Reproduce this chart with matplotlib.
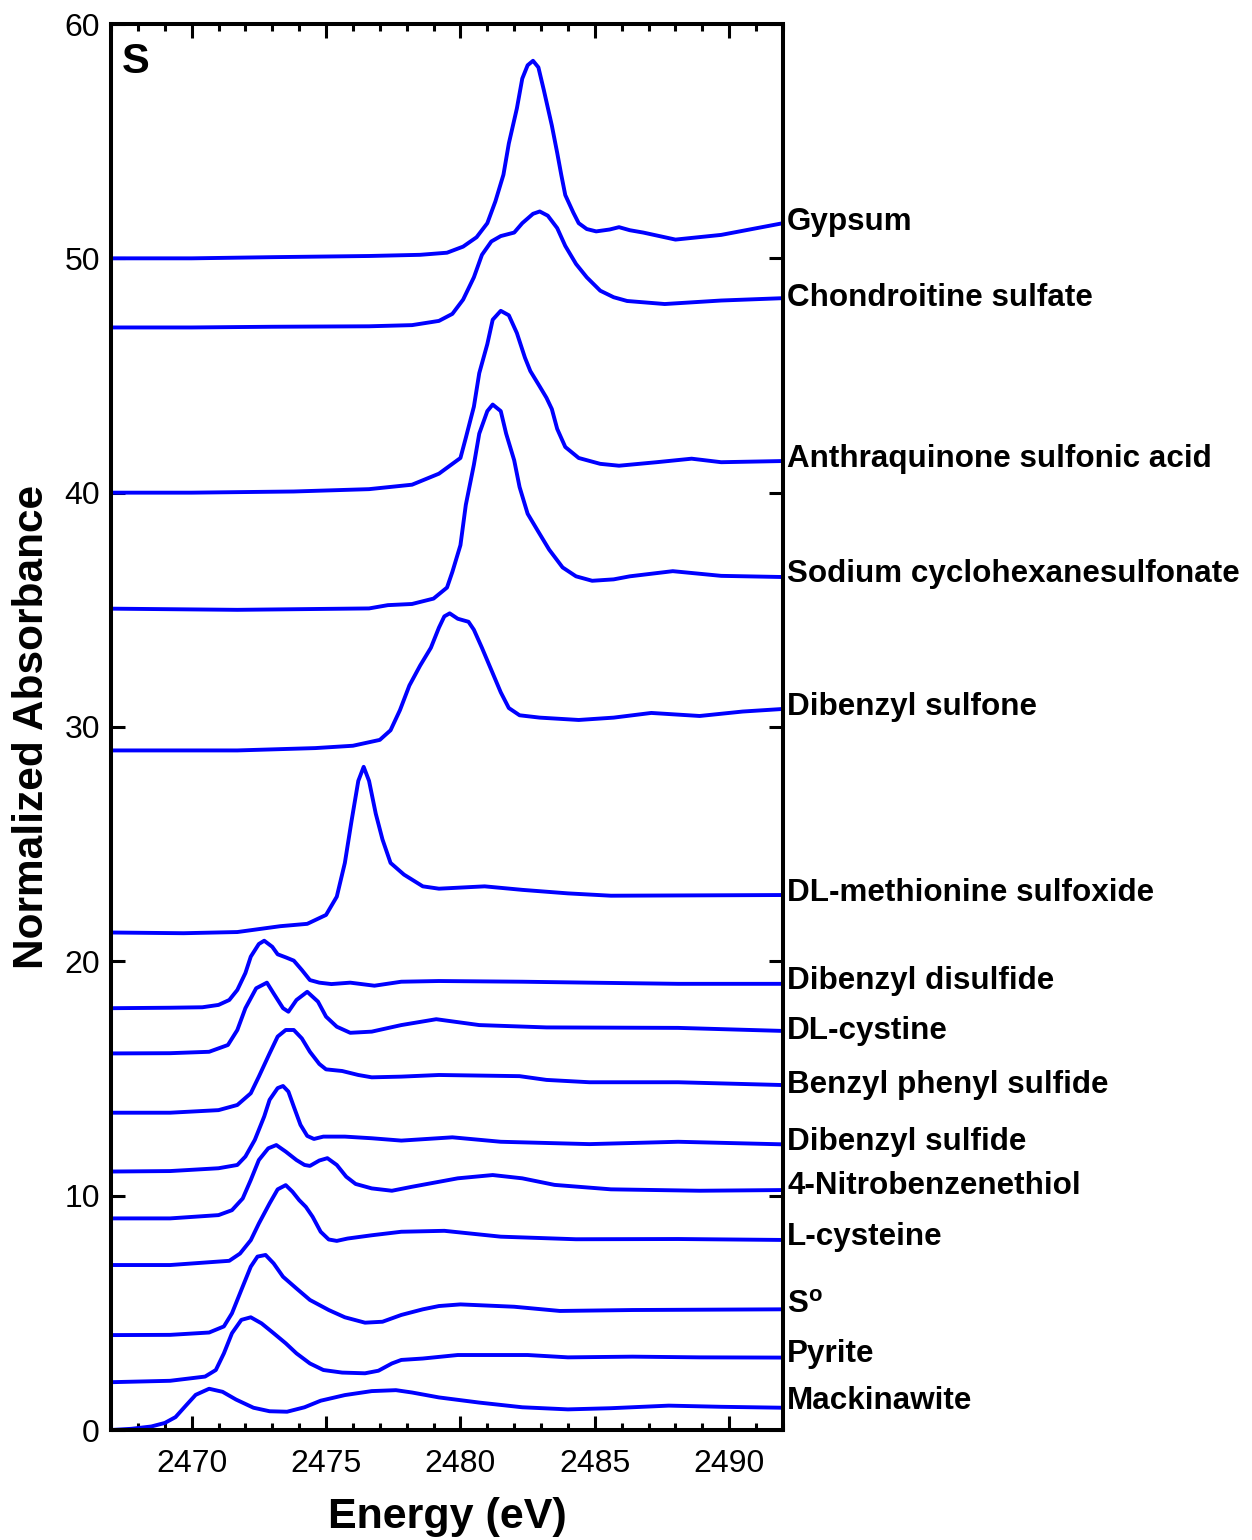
import matplotlib
matplotlib.use("Agg")
import matplotlib.pyplot as plt
import matplotlib.transforms as mtransforms
from matplotlib.ticker import MultipleLocator

plt.rcParams['font.family'] = ['Liberation Sans', 'DejaVu Sans']
plt.rcParams['mathtext.fontset'] = 'custom'
plt.rcParams['mathtext.rm'] = 'Liberation Sans'
plt.rcParams['mathtext.bf'] = 'Liberation Sans:bold'

# Sulfur K-edge XANES reference spectra (offset for display)
names = ["Gypsum", "Chondroitine sulfate", "Anthraquinone sulfonic acid",
         "Sodium cyclohexanesulfonate", "Dibenzyl sulfone", "DL-methionine sulfoxide",
         "Dibenzyl disulfide", "DL-cystine", "Benzyl phenyl sulfide", "Dibenzyl sulfide",
         "4-Nitrobenzenethiol", "L-cysteine", r"S$^{\mathbf{o}}$", "Pyrite", "Mackinawite"]

label_y = [51.56, 48.3, 41.44, 36.53, 30.86, 22.92, 19.16, 17.03, 14.72, 12.29,
           10.41, 8.24, 5.33, 3.24, 1.24]

e_gypsum = [2467.0, 2470.0, 2473.0, 2476.6, 2478.5, 2479.5, 2480.1, 2480.6, 2481.0, 2481.3,
            2481.6, 2481.8, 2482.1, 2482.3, 2482.5, 2482.7, 2482.9, 2483.1, 2483.4, 2483.6,
            2483.75, 2483.9, 2484.2, 2484.4, 2484.7, 2485.05, 2485.55, 2485.9, 2486.3, 2486.8,
            2488.0, 2489.7, 2492.0]
a_gypsum = [50.0, 50.0, 50.05, 50.1, 50.15, 50.24, 50.5, 50.9, 51.5, 52.43,
            53.57, 54.9, 56.4, 57.67, 58.24, 58.43, 58.15, 57.19, 55.67, 54.5,
            53.57, 52.7, 51.95, 51.5, 51.25, 51.15, 51.23, 51.33, 51.2, 51.1,
            50.8, 51.0, 51.5]

e_chondroitine = [2467.0, 2470.0, 2473.0, 2476.6, 2478.2, 2479.2, 2479.7, 2480.1, 2480.5, 2480.8,
                  2481.15, 2481.5, 2482.0, 2482.3, 2482.7, 2482.95, 2483.25, 2483.6, 2483.9, 2484.3,
                  2484.7, 2485.2, 2485.7, 2486.2, 2487.6, 2489.7, 2492.0]
a_chondroitine = [47.05, 47.05, 47.08, 47.1, 47.15, 47.33, 47.63, 48.24, 49.19, 50.15,
                  50.72, 50.95, 51.1, 51.5, 51.9, 52.0, 51.82, 51.29, 50.53, 49.76,
                  49.19, 48.62, 48.34, 48.18, 48.05, 48.2, 48.3]

e_anthraquinone = [2467.0, 2470.0, 2473.8, 2476.6, 2478.2, 2479.2, 2480.0, 2480.2, 2480.5, 2480.7,
                   2481.0, 2481.2, 2481.5, 2481.8, 2482.1, 2482.4, 2482.6, 2482.95, 2483.2, 2483.4,
                   2483.6, 2483.9, 2484.4, 2485.2, 2485.9, 2487.3, 2488.6, 2489.7, 2492.0]
a_anthraquinone = [40.0, 40.0, 40.05, 40.15, 40.34, 40.81, 41.48, 42.34, 43.67, 45.1,
                   46.34, 47.38, 47.76, 47.57, 46.81, 45.76, 45.19, 44.53, 44.05, 43.57,
                   42.72, 41.95, 41.48, 41.23, 41.15, 41.3, 41.45, 41.3, 41.35]

e_cyclohexanesulfonate = [2467.0, 2471.7, 2476.6, 2477.3, 2478.2, 2479.0, 2479.5, 2479.7, 2480.0, 2480.2,
                          2480.5, 2480.7, 2481.0, 2481.2, 2481.5, 2481.7, 2482.0, 2482.2, 2482.5, 2482.9,
                          2483.3, 2483.8, 2484.3, 2484.9, 2485.7, 2486.3, 2487.9, 2489.7, 2492.0]
a_cyclohexanesulfonate = [35.05, 35.0, 35.06, 35.2, 35.25, 35.48, 35.95, 36.62, 37.76, 39.48,
                          41.19, 42.52, 43.48, 43.76, 43.48, 42.52, 41.38, 40.24, 39.1, 38.33,
                          37.57, 36.81, 36.43, 36.24, 36.3, 36.43, 36.65, 36.45, 36.4]

e_sulfone = [2467.0, 2471.7, 2474.6, 2476.0, 2477.0, 2477.4, 2477.75, 2478.1, 2478.5, 2478.9,
             2479.2, 2479.4, 2479.6, 2479.9, 2480.3, 2480.5, 2480.8, 2481.15, 2481.5, 2481.8,
             2482.2, 2482.95, 2484.4, 2485.7, 2487.1, 2488.9, 2490.5, 2492.0]
a_sulfone = [29.0, 29.0, 29.1, 29.2, 29.45, 29.86, 30.72, 31.77, 32.62, 33.38,
             34.24, 34.72, 34.85, 34.62, 34.49, 34.15, 33.38, 32.43, 31.48, 30.81,
             30.5, 30.4, 30.3, 30.4, 30.6, 30.47, 30.66, 30.77]

e_sulfoxide = [2467.0, 2469.7, 2471.7, 2473.3, 2474.3, 2475.0, 2475.4, 2475.7, 2475.95, 2476.2,
               2476.4, 2476.6, 2476.85, 2477.1, 2477.4, 2477.9, 2478.6, 2479.2, 2480.9, 2482.3,
               2484.0, 2485.6, 2492.0]
a_sulfoxide = [21.23, 21.2, 21.25, 21.5, 21.6, 21.98, 22.76, 24.2, 26.0, 27.7,
               28.3, 27.7, 26.3, 25.2, 24.2, 23.7, 23.2, 23.1, 23.2, 23.05,
               22.9, 22.8, 22.83]

e_disulfide = [2467.0, 2469.2, 2470.4, 2471.0, 2471.4, 2471.7, 2472.0, 2472.2, 2472.5, 2472.7,
               2473.0, 2473.2, 2473.5, 2473.8, 2474.1, 2474.4, 2474.75, 2475.2, 2475.9, 2476.8,
               2477.8, 2479.2, 2482.3, 2484.8, 2488.1, 2492.0]
a_disulfide = [18.0, 18.02, 18.04, 18.14, 18.35, 18.78, 19.5, 20.2, 20.74, 20.88,
               20.62, 20.3, 20.17, 20.03, 19.63, 19.2, 19.09, 19.03, 19.09, 18.96,
               19.13, 19.16, 19.13, 19.09, 19.04, 19.04]

e_cystine = [2467.0, 2469.2, 2470.65, 2471.35, 2471.7, 2472.0, 2472.4, 2472.8, 2473.05, 2473.4,
             2473.6, 2473.9, 2474.3, 2474.7, 2475.0, 2475.4, 2475.9, 2476.7, 2477.8, 2479.1,
             2480.7, 2483.2, 2488.1, 2492.0]
a_cystine = [16.07, 16.08, 16.14, 16.43, 17.07, 18.0, 18.85, 19.09, 18.63, 18.0,
             17.85, 18.35, 18.7, 18.28, 17.64, 17.21, 16.95, 17.0, 17.28, 17.53,
             17.28, 17.18, 17.16, 17.03]

e_benzylphenyl = [2467.0, 2469.2, 2471.0, 2471.7, 2472.2, 2472.5, 2472.9, 2473.2, 2473.5, 2473.8,
                  2474.1, 2474.4, 2474.75, 2475.0, 2475.6, 2476.2, 2476.7, 2477.8, 2479.2, 2482.2,
                  2483.2, 2484.8, 2488.1, 2492.0]
a_benzylphenyl = [13.54, 13.54, 13.65, 13.87, 14.37, 15.08, 16.07, 16.79, 17.07, 17.07,
                  16.71, 16.14, 15.62, 15.39, 15.32, 15.15, 15.05, 15.08, 15.15, 15.1,
                  14.94, 14.84, 14.84, 14.72]

e_sulfide = [2467.0, 2469.2, 2471.0, 2471.7, 2472.0, 2472.35, 2472.7, 2472.9, 2473.2, 2473.4,
             2473.6, 2473.8, 2474.05, 2474.3, 2474.55, 2474.9, 2475.7, 2476.7, 2477.8, 2479.7,
             2481.5, 2484.8, 2488.1, 2492.0]
a_sulfide = [11.03, 11.05, 11.17, 11.31, 11.67, 12.38, 13.38, 14.09, 14.59, 14.68,
             14.44, 13.8, 13.02, 12.55, 12.42, 12.52, 12.52, 12.45, 12.35, 12.49,
             12.3, 12.2, 12.3, 12.19]

e_nitro = [2467.0, 2469.2, 2471.0, 2471.5, 2471.9, 2472.2, 2472.5, 2472.85, 2473.15, 2473.5,
           2473.9, 2474.2, 2474.4, 2474.75, 2475.05, 2475.4, 2475.75, 2476.1, 2476.7, 2477.45,
           2478.2, 2479.9, 2481.2, 2482.3, 2483.5, 2485.6, 2488.9, 2492.0]
a_nitro = [9.03, 9.03, 9.17, 9.38, 9.88, 10.67, 11.52, 12.02, 12.16, 11.88,
           11.52, 11.31, 11.27, 11.5, 11.6, 11.31, 10.81, 10.5, 10.31, 10.21,
           10.38, 10.74, 10.88, 10.74, 10.46, 10.27, 10.21, 10.24]

e_cysteine = [2467.0, 2469.2, 2471.4, 2471.8, 2472.2, 2472.5, 2472.9, 2473.2, 2473.5, 2473.75,
              2474.0, 2474.25, 2474.5, 2474.8, 2475.1, 2475.4, 2475.8, 2476.7, 2477.8, 2479.4,
              2481.5, 2484.3, 2488.1, 2492.0]
a_cysteine = [7.04, 7.04, 7.22, 7.53, 8.1, 8.81, 9.67, 10.27, 10.45, 10.17,
              9.81, 9.52, 9.1, 8.46, 8.13, 8.07, 8.17, 8.31, 8.46, 8.5,
              8.25, 8.14, 8.15, 8.11]

e_sulfur = [2467.0, 2469.2, 2470.65, 2471.2, 2471.5, 2471.85, 2472.2, 2472.45, 2472.75, 2473.05,
            2473.4, 2473.9, 2474.4, 2475.1, 2475.7, 2476.45, 2477.1, 2477.8, 2478.6, 2479.2,
            2480.0, 2482.0, 2483.7, 2486.4, 2492.0]
a_sulfur = [4.05, 4.06, 4.16, 4.42, 4.98, 5.98, 6.97, 7.4, 7.47, 7.11,
            6.54, 6.04, 5.55, 5.12, 4.81, 4.58, 4.62, 4.91, 5.15, 5.29,
            5.36, 5.26, 5.08, 5.12, 5.15]

e_pyrite = [2467.0, 2469.2, 2470.5, 2470.9, 2471.2, 2471.5, 2471.85, 2472.2, 2472.6, 2473.05,
            2473.5, 2473.9, 2474.4, 2474.9, 2475.6, 2476.45, 2476.95, 2477.45, 2477.8, 2478.6,
            2479.9, 2482.5, 2484.0, 2486.4, 2488.9, 2492.0]
a_pyrite = [2.04, 2.1, 2.28, 2.56, 3.27, 4.13, 4.7, 4.81, 4.55, 4.13,
            3.7, 3.27, 2.84, 2.56, 2.45, 2.42, 2.53, 2.84, 2.99, 3.05,
            3.2, 3.2, 3.1, 3.13, 3.1, 3.09]

e_mackinawite = [2467.0, 2467.75, 2468.5, 2469.0, 2469.4, 2469.8, 2470.15, 2470.65, 2471.15, 2471.65,
                 2472.3, 2472.9, 2473.55, 2474.2, 2474.8, 2475.7, 2476.7, 2477.6, 2478.2, 2479.2,
                 2480.7, 2482.3, 2484.0, 2485.6, 2487.75, 2489.7, 2492.0]
a_mackinawite = [0.0, 0.05, 0.15, 0.3, 0.55, 1.06, 1.5, 1.76, 1.63, 1.3,
                 0.95, 0.8, 0.78, 0.97, 1.25, 1.49, 1.66, 1.7, 1.6, 1.39,
                 1.17, 0.97, 0.88, 0.93, 1.04, 0.99, 0.95]

spectra = [(e_gypsum, a_gypsum), (e_chondroitine, a_chondroitine),
           (e_anthraquinone, a_anthraquinone), (e_cyclohexanesulfonate, a_cyclohexanesulfonate),
           (e_sulfone, a_sulfone), (e_sulfoxide, a_sulfoxide), (e_disulfide, a_disulfide),
           (e_cystine, a_cystine), (e_benzylphenyl, a_benzylphenyl), (e_sulfide, a_sulfide),
           (e_nitro, a_nitro), (e_cysteine, a_cysteine), (e_sulfur, a_sulfur),
           (e_pyrite, a_pyrite), (e_mackinawite, a_mackinawite)]

W, H = 1252, 1540
fig = plt.figure(figsize=(W / 100, H / 100), dpi=100)
ax = fig.add_axes([111 / W, 110 / H, 672 / W, 1406 / H])

for (e, a) in spectra:
    ax.plot(e, a, color=(0, 0, 1), lw=2.8, solid_joinstyle='round', solid_capstyle='round')

ax.set_xlim(2467, 2492)
ax.set_ylim(0, 60)

ax.xaxis.set_major_locator(MultipleLocator(5))
ax.xaxis.set_minor_locator(MultipleLocator(1))
ax.yaxis.set_major_locator(MultipleLocator(10))
ax.tick_params(axis='x', which='major', direction='in', top=True, bottom=True,
               length=10, width=2.2, labelsize=23, pad=14)
ax.tick_params(axis='x', which='minor', direction='in', top=True, bottom=True,
               length=5, width=2.2)
ax.tick_params(axis='y', which='major', direction='in', left=True, right=True,
               length=10, width=2.2, labelsize=23, pad=8)
for s in ax.spines.values():
    s.set_linewidth(2.9)

# Compound names to the right of each trace
trans = mtransforms.blended_transform_factory(ax.transAxes, ax.transData)
for name, y in zip(names, label_y):
    ax.text(1.006, y, name, transform=trans, ha='left', va='center',
            fontsize=22.6, fontweight='bold', clip_on=False)

ax.text(0.016, 0.987, "S", transform=ax.transAxes, ha='left', va='top',
        fontsize=30, fontweight='bold')

fig.text(447 / W, 1 - 1517 / H, "Energy (eV)", ha='center', va='center',
         fontsize=31, fontweight='bold')
fig.text(32 / W, 1 - 727 / H, "Normalized Absorbance", ha='center', va='center',
         rotation=90, fontsize=30.5, fontweight='bold')

fig.savefig("out.png", dpi=100)
